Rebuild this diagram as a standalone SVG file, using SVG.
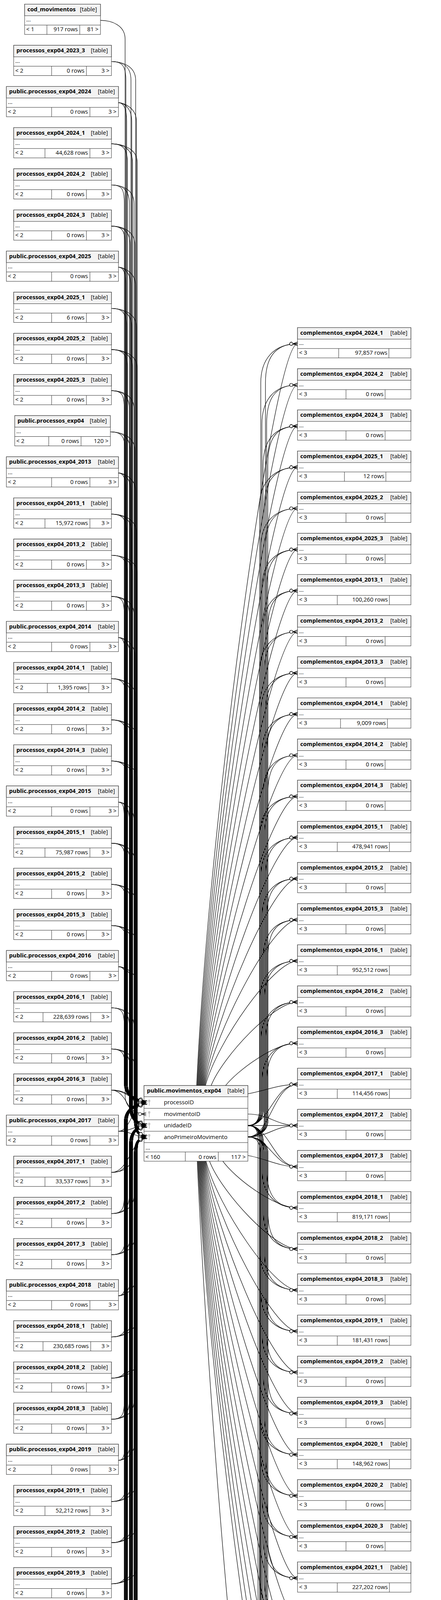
<svg xmlns="http://www.w3.org/2000/svg" width="1128" height="5725" viewBox="0 0 1128 5725">
<style>
text{font-family:"Open Sans","Noto Sans","DejaVu Sans",sans-serif;font-size:14.67px;fill:#000}
.b{font-weight:700}
.e{text-anchor:end}
.n path{fill:none;stroke:#2b2b2b;stroke-width:1}
.c path{fill:none;stroke:#000;stroke-width:1.2;marker-end:url(#m)}
</style>
<defs>
<marker id="m" viewBox="-22 -6 23 12" refX="0" refY="0" markerWidth="23" markerHeight="12" markerUnits="userSpaceOnUse" orient="auto" overflow="visible"><path d="M-12 0L0-4.5M-12 0L0 0M-12 0L0 4.5" fill="none" stroke="#000" stroke-width="1.2"/><circle cx="-16" cy="0" r="4" fill="#fff" stroke="#000" stroke-width="1.2"/></marker>
<g id="fS"><rect width="250" height="77.5" fill="#fff" stroke="#2b2b2b"/><rect width="250" height="29.5" fill="#f3f3f3" stroke="#2b2b2b"/><path d="M0 53.5H250" stroke="#2b2b2b"/></g>
<g id="fP"><rect width="286.7" height="77.5" fill="#fff" stroke="#2b2b2b"/><rect width="286.7" height="29.5" fill="#f3f3f3" stroke="#2b2b2b"/><path d="M0 53.5H286.7" stroke="#2b2b2b"/></g>
<g id="fX"><rect width="244.6" height="77.5" fill="#fff" stroke="#2b2b2b"/><rect width="244.6" height="29.5" fill="#f3f3f3" stroke="#2b2b2b"/><path d="M0 53.5H244.6" stroke="#2b2b2b"/></g>
<g id="fC"><rect width="194" height="77.5" fill="#fff" stroke="#2b2b2b"/><rect width="194" height="29.5" fill="#f3f3f3" stroke="#2b2b2b"/><path d="M0 53.5H194" stroke="#2b2b2b"/></g>
<g id="fR"><rect width="290" height="77.5" fill="#fff" stroke="#2b2b2b"/><rect width="290" height="29.5" fill="#f3f3f3" stroke="#2b2b2b"/><path d="M0 53.5H290" stroke="#2b2b2b"/></g>
<g id="k" fill="#c6c6c6"><ellipse cx="0" cy="10.5" rx="2.8" ry="3.3"/><rect x="-0.9" y="13" width="1.8" height="10"/></g>
</defs>
<rect width="1128" height="5725" fill="#fff"/>
<g class="n">
<g id="cod_movimentos" transform="translate(63 10.7)"><use href="#fC"/><path d="M57 53.5v24M141 53.5v24"/><text class="b" x="7" y="18">cod_movimentos</text><text class="e" x="185" y="18">[table]</text><text x="4" y="44.5">...</text><text x="4" y="69.5">&lt; 1</text><text class="e" x="136" y="69.5">917 rows</text><text class="e" x="189" y="69.5">81 &gt;</text></g>
<g id="processos_exp04_2023_3" transform="translate(35 116)"><use href="#fS"/><path d="M97 53.5v24M186 53.5v24"/><text class="b" x="7" y="18">processos_exp04_2023_3</text><text class="e" x="241" y="18">[table]</text><text x="4" y="44.5">...</text><text x="4" y="69.5">&lt; 2</text><text class="e" x="181" y="69.5">0 rows</text><text class="e" x="245" y="69.5">3 &gt;</text></g>
<g id="public.processos_exp04_2024" transform="translate(16.3 221.4)"><use href="#fP"/><path d="M115.7 53.5v24M213.7 53.5v24"/><text class="b" x="7" y="18">public.processos_exp04_2024</text><text class="e" x="277.7" y="18">[table]</text><text x="4" y="44.5">...</text><text x="4" y="69.5">&lt; 2</text><text class="e" x="208.7" y="69.5">0 rows</text><text class="e" x="281.7" y="69.5">3 &gt;</text></g>
<g id="processos_exp04_2024_1" transform="translate(35 326.7)"><use href="#fS"/><path d="M80 53.5v24M195 53.5v24"/><text class="b" x="7" y="18">processos_exp04_2024_1</text><text class="e" x="241" y="18">[table]</text><text x="4" y="44.5">...</text><text x="4" y="69.5">&lt; 2</text><text class="e" x="190" y="69.5">44,628 rows</text><text class="e" x="245" y="69.5">3 &gt;</text></g>
<g id="processos_exp04_2024_2" transform="translate(35 432)"><use href="#fS"/><path d="M97 53.5v24M186 53.5v24"/><text class="b" x="7" y="18">processos_exp04_2024_2</text><text class="e" x="241" y="18">[table]</text><text x="4" y="44.5">...</text><text x="4" y="69.5">&lt; 2</text><text class="e" x="181" y="69.5">0 rows</text><text class="e" x="245" y="69.5">3 &gt;</text></g>
<g id="processos_exp04_2024_3" transform="translate(35 537.4)"><use href="#fS"/><path d="M97 53.5v24M186 53.5v24"/><text class="b" x="7" y="18">processos_exp04_2024_3</text><text class="e" x="241" y="18">[table]</text><text x="4" y="44.5">...</text><text x="4" y="69.5">&lt; 2</text><text class="e" x="181" y="69.5">0 rows</text><text class="e" x="245" y="69.5">3 &gt;</text></g>
<g id="public.processos_exp04_2025" transform="translate(16.3 642.7)"><use href="#fP"/><path d="M115.7 53.5v24M213.7 53.5v24"/><text class="b" x="7" y="18">public.processos_exp04_2025</text><text class="e" x="277.7" y="18">[table]</text><text x="4" y="44.5">...</text><text x="4" y="69.5">&lt; 2</text><text class="e" x="208.7" y="69.5">0 rows</text><text class="e" x="281.7" y="69.5">3 &gt;</text></g>
<g id="processos_exp04_2025_1" transform="translate(35 748)"><use href="#fS"/><path d="M97 53.5v24M186 53.5v24"/><text class="b" x="7" y="18">processos_exp04_2025_1</text><text class="e" x="241" y="18">[table]</text><text x="4" y="44.5">...</text><text x="4" y="69.5">&lt; 2</text><text class="e" x="181" y="69.5">6 rows</text><text class="e" x="245" y="69.5">3 &gt;</text></g>
<g id="processos_exp04_2025_2" transform="translate(35 853.3)"><use href="#fS"/><path d="M97 53.5v24M186 53.5v24"/><text class="b" x="7" y="18">processos_exp04_2025_2</text><text class="e" x="241" y="18">[table]</text><text x="4" y="44.5">...</text><text x="4" y="69.5">&lt; 2</text><text class="e" x="181" y="69.5">0 rows</text><text class="e" x="245" y="69.5">3 &gt;</text></g>
<g id="processos_exp04_2025_3" transform="translate(35 958.7)"><use href="#fS"/><path d="M97 53.5v24M186 53.5v24"/><text class="b" x="7" y="18">processos_exp04_2025_3</text><text class="e" x="241" y="18">[table]</text><text x="4" y="44.5">...</text><text x="4" y="69.5">&lt; 2</text><text class="e" x="181" y="69.5">0 rows</text><text class="e" x="245" y="69.5">3 &gt;</text></g>
<g id="public.processos_exp04" transform="translate(37.7 1064)"><use href="#fX"/><path d="M87 53.5v24M169.6 53.5v24"/><text class="b" x="7" y="18">public.processos_exp04</text><text class="e" x="235.6" y="18">[table]</text><text x="4" y="44.5">...</text><text x="4" y="69.5">&lt; 2</text><text class="e" x="164.6" y="69.5">0 rows</text><text class="e" x="239.6" y="69.5">120 &gt;</text></g>
<g id="public.processos_exp04_2013" transform="translate(16.3 1169.3)"><use href="#fP"/><path d="M115.7 53.5v24M213.7 53.5v24"/><text class="b" x="7" y="18">public.processos_exp04_2013</text><text class="e" x="277.7" y="18">[table]</text><text x="4" y="44.5">...</text><text x="4" y="69.5">&lt; 2</text><text class="e" x="208.7" y="69.5">0 rows</text><text class="e" x="281.7" y="69.5">3 &gt;</text></g>
<g id="processos_exp04_2013_1" transform="translate(35 1274.6)"><use href="#fS"/><path d="M80 53.5v24M195 53.5v24"/><text class="b" x="7" y="18">processos_exp04_2013_1</text><text class="e" x="241" y="18">[table]</text><text x="4" y="44.5">...</text><text x="4" y="69.5">&lt; 2</text><text class="e" x="190" y="69.5">15,972 rows</text><text class="e" x="245" y="69.5">3 &gt;</text></g>
<g id="processos_exp04_2013_2" transform="translate(35 1380)"><use href="#fS"/><path d="M97 53.5v24M186 53.5v24"/><text class="b" x="7" y="18">processos_exp04_2013_2</text><text class="e" x="241" y="18">[table]</text><text x="4" y="44.5">...</text><text x="4" y="69.5">&lt; 2</text><text class="e" x="181" y="69.5">0 rows</text><text class="e" x="245" y="69.5">3 &gt;</text></g>
<g id="processos_exp04_2013_3" transform="translate(35 1485.3)"><use href="#fS"/><path d="M97 53.5v24M186 53.5v24"/><text class="b" x="7" y="18">processos_exp04_2013_3</text><text class="e" x="241" y="18">[table]</text><text x="4" y="44.5">...</text><text x="4" y="69.5">&lt; 2</text><text class="e" x="181" y="69.5">0 rows</text><text class="e" x="245" y="69.5">3 &gt;</text></g>
<g id="public.processos_exp04_2014" transform="translate(16.3 1590.6)"><use href="#fP"/><path d="M115.7 53.5v24M213.7 53.5v24"/><text class="b" x="7" y="18">public.processos_exp04_2014</text><text class="e" x="277.7" y="18">[table]</text><text x="4" y="44.5">...</text><text x="4" y="69.5">&lt; 2</text><text class="e" x="208.7" y="69.5">0 rows</text><text class="e" x="281.7" y="69.5">3 &gt;</text></g>
<g id="processos_exp04_2014_1" transform="translate(35 1695.9)"><use href="#fS"/><path d="M86 53.5v24M192 53.5v24"/><text class="b" x="7" y="18">processos_exp04_2014_1</text><text class="e" x="241" y="18">[table]</text><text x="4" y="44.5">...</text><text x="4" y="69.5">&lt; 2</text><text class="e" x="187" y="69.5">1,395 rows</text><text class="e" x="245" y="69.5">3 &gt;</text></g>
<g id="processos_exp04_2014_2" transform="translate(35 1801.3)"><use href="#fS"/><path d="M97 53.5v24M186 53.5v24"/><text class="b" x="7" y="18">processos_exp04_2014_2</text><text class="e" x="241" y="18">[table]</text><text x="4" y="44.5">...</text><text x="4" y="69.5">&lt; 2</text><text class="e" x="181" y="69.5">0 rows</text><text class="e" x="245" y="69.5">3 &gt;</text></g>
<g id="processos_exp04_2014_3" transform="translate(35 1906.6)"><use href="#fS"/><path d="M97 53.5v24M186 53.5v24"/><text class="b" x="7" y="18">processos_exp04_2014_3</text><text class="e" x="241" y="18">[table]</text><text x="4" y="44.5">...</text><text x="4" y="69.5">&lt; 2</text><text class="e" x="181" y="69.5">0 rows</text><text class="e" x="245" y="69.5">3 &gt;</text></g>
<g id="public.processos_exp04_2015" transform="translate(16.3 2011.9)"><use href="#fP"/><path d="M115.7 53.5v24M213.7 53.5v24"/><text class="b" x="7" y="18">public.processos_exp04_2015</text><text class="e" x="277.7" y="18">[table]</text><text x="4" y="44.5">...</text><text x="4" y="69.5">&lt; 2</text><text class="e" x="208.7" y="69.5">0 rows</text><text class="e" x="281.7" y="69.5">3 &gt;</text></g>
<g id="processos_exp04_2015_1" transform="translate(35 2117.2)"><use href="#fS"/><path d="M80 53.5v24M195 53.5v24"/><text class="b" x="7" y="18">processos_exp04_2015_1</text><text class="e" x="241" y="18">[table]</text><text x="4" y="44.5">...</text><text x="4" y="69.5">&lt; 2</text><text class="e" x="190" y="69.5">75,987 rows</text><text class="e" x="245" y="69.5">3 &gt;</text></g>
<g id="processos_exp04_2015_2" transform="translate(35 2222.6)"><use href="#fS"/><path d="M97 53.5v24M186 53.5v24"/><text class="b" x="7" y="18">processos_exp04_2015_2</text><text class="e" x="241" y="18">[table]</text><text x="4" y="44.5">...</text><text x="4" y="69.5">&lt; 2</text><text class="e" x="181" y="69.5">0 rows</text><text class="e" x="245" y="69.5">3 &gt;</text></g>
<g id="processos_exp04_2015_3" transform="translate(35 2327.9)"><use href="#fS"/><path d="M97 53.5v24M186 53.5v24"/><text class="b" x="7" y="18">processos_exp04_2015_3</text><text class="e" x="241" y="18">[table]</text><text x="4" y="44.5">...</text><text x="4" y="69.5">&lt; 2</text><text class="e" x="181" y="69.5">0 rows</text><text class="e" x="245" y="69.5">3 &gt;</text></g>
<g id="public.processos_exp04_2016" transform="translate(16.3 2433.2)"><use href="#fP"/><path d="M115.7 53.5v24M213.7 53.5v24"/><text class="b" x="7" y="18">public.processos_exp04_2016</text><text class="e" x="277.7" y="18">[table]</text><text x="4" y="44.5">...</text><text x="4" y="69.5">&lt; 2</text><text class="e" x="208.7" y="69.5">0 rows</text><text class="e" x="281.7" y="69.5">3 &gt;</text></g>
<g id="processos_exp04_2016_1" transform="translate(35 2538.5)"><use href="#fS"/><path d="M75 53.5v24M197 53.5v24"/><text class="b" x="7" y="18">processos_exp04_2016_1</text><text class="e" x="241" y="18">[table]</text><text x="4" y="44.5">...</text><text x="4" y="69.5">&lt; 2</text><text class="e" x="192" y="69.5">228,639 rows</text><text class="e" x="245" y="69.5">3 &gt;</text></g>
<g id="processos_exp04_2016_2" transform="translate(35 2643.9)"><use href="#fS"/><path d="M97 53.5v24M186 53.5v24"/><text class="b" x="7" y="18">processos_exp04_2016_2</text><text class="e" x="241" y="18">[table]</text><text x="4" y="44.5">...</text><text x="4" y="69.5">&lt; 2</text><text class="e" x="181" y="69.5">0 rows</text><text class="e" x="245" y="69.5">3 &gt;</text></g>
<g id="processos_exp04_2016_3" transform="translate(35 2749.2)"><use href="#fS"/><path d="M97 53.5v24M186 53.5v24"/><text class="b" x="7" y="18">processos_exp04_2016_3</text><text class="e" x="241" y="18">[table]</text><text x="4" y="44.5">...</text><text x="4" y="69.5">&lt; 2</text><text class="e" x="181" y="69.5">0 rows</text><text class="e" x="245" y="69.5">3 &gt;</text></g>
<g id="public.processos_exp04_2017" transform="translate(16.3 2854.5)"><use href="#fP"/><path d="M115.7 53.5v24M213.7 53.5v24"/><text class="b" x="7" y="18">public.processos_exp04_2017</text><text class="e" x="277.7" y="18">[table]</text><text x="4" y="44.5">...</text><text x="4" y="69.5">&lt; 2</text><text class="e" x="208.7" y="69.5">0 rows</text><text class="e" x="281.7" y="69.5">3 &gt;</text></g>
<g id="processos_exp04_2017_1" transform="translate(35 2959.8)"><use href="#fS"/><path d="M80 53.5v24M195 53.5v24"/><text class="b" x="7" y="18">processos_exp04_2017_1</text><text class="e" x="241" y="18">[table]</text><text x="4" y="44.5">...</text><text x="4" y="69.5">&lt; 2</text><text class="e" x="190" y="69.5">33,537 rows</text><text class="e" x="245" y="69.5">3 &gt;</text></g>
<g id="processos_exp04_2017_2" transform="translate(35 3065.2)"><use href="#fS"/><path d="M97 53.5v24M186 53.5v24"/><text class="b" x="7" y="18">processos_exp04_2017_2</text><text class="e" x="241" y="18">[table]</text><text x="4" y="44.5">...</text><text x="4" y="69.5">&lt; 2</text><text class="e" x="181" y="69.5">0 rows</text><text class="e" x="245" y="69.5">3 &gt;</text></g>
<g id="processos_exp04_2017_3" transform="translate(35 3170.5)"><use href="#fS"/><path d="M97 53.5v24M186 53.5v24"/><text class="b" x="7" y="18">processos_exp04_2017_3</text><text class="e" x="241" y="18">[table]</text><text x="4" y="44.5">...</text><text x="4" y="69.5">&lt; 2</text><text class="e" x="181" y="69.5">0 rows</text><text class="e" x="245" y="69.5">3 &gt;</text></g>
<g id="public.processos_exp04_2018" transform="translate(16.3 3275.8)"><use href="#fP"/><path d="M115.7 53.5v24M213.7 53.5v24"/><text class="b" x="7" y="18">public.processos_exp04_2018</text><text class="e" x="277.7" y="18">[table]</text><text x="4" y="44.5">...</text><text x="4" y="69.5">&lt; 2</text><text class="e" x="208.7" y="69.5">0 rows</text><text class="e" x="281.7" y="69.5">3 &gt;</text></g>
<g id="processos_exp04_2018_1" transform="translate(35 3381.1)"><use href="#fS"/><path d="M75 53.5v24M197 53.5v24"/><text class="b" x="7" y="18">processos_exp04_2018_1</text><text class="e" x="241" y="18">[table]</text><text x="4" y="44.5">...</text><text x="4" y="69.5">&lt; 2</text><text class="e" x="192" y="69.5">230,685 rows</text><text class="e" x="245" y="69.5">3 &gt;</text></g>
<g id="processos_exp04_2018_2" transform="translate(35 3486.5)"><use href="#fS"/><path d="M97 53.5v24M186 53.5v24"/><text class="b" x="7" y="18">processos_exp04_2018_2</text><text class="e" x="241" y="18">[table]</text><text x="4" y="44.5">...</text><text x="4" y="69.5">&lt; 2</text><text class="e" x="181" y="69.5">0 rows</text><text class="e" x="245" y="69.5">3 &gt;</text></g>
<g id="processos_exp04_2018_3" transform="translate(35 3591.8)"><use href="#fS"/><path d="M97 53.5v24M186 53.5v24"/><text class="b" x="7" y="18">processos_exp04_2018_3</text><text class="e" x="241" y="18">[table]</text><text x="4" y="44.5">...</text><text x="4" y="69.5">&lt; 2</text><text class="e" x="181" y="69.5">0 rows</text><text class="e" x="245" y="69.5">3 &gt;</text></g>
<g id="public.processos_exp04_2019" transform="translate(16.3 3697.1)"><use href="#fP"/><path d="M115.7 53.5v24M213.7 53.5v24"/><text class="b" x="7" y="18">public.processos_exp04_2019</text><text class="e" x="277.7" y="18">[table]</text><text x="4" y="44.5">...</text><text x="4" y="69.5">&lt; 2</text><text class="e" x="208.7" y="69.5">0 rows</text><text class="e" x="281.7" y="69.5">3 &gt;</text></g>
<g id="processos_exp04_2019_1" transform="translate(35 3802.4)"><use href="#fS"/><path d="M80 53.5v24M195 53.5v24"/><text class="b" x="7" y="18">processos_exp04_2019_1</text><text class="e" x="241" y="18">[table]</text><text x="4" y="44.5">...</text><text x="4" y="69.5">&lt; 2</text><text class="e" x="190" y="69.5">52,212 rows</text><text class="e" x="245" y="69.5">3 &gt;</text></g>
<g id="processos_exp04_2019_2" transform="translate(35 3907.8)"><use href="#fS"/><path d="M97 53.5v24M186 53.5v24"/><text class="b" x="7" y="18">processos_exp04_2019_2</text><text class="e" x="241" y="18">[table]</text><text x="4" y="44.5">...</text><text x="4" y="69.5">&lt; 2</text><text class="e" x="181" y="69.5">0 rows</text><text class="e" x="245" y="69.5">3 &gt;</text></g>
<g id="processos_exp04_2019_3" transform="translate(35 4013.1)"><use href="#fS"/><path d="M97 53.5v24M186 53.5v24"/><text class="b" x="7" y="18">processos_exp04_2019_3</text><text class="e" x="241" y="18">[table]</text><text x="4" y="44.5">...</text><text x="4" y="69.5">&lt; 2</text><text class="e" x="181" y="69.5">0 rows</text><text class="e" x="245" y="69.5">3 &gt;</text></g>
<g id="public.processos_exp04_2020" transform="translate(16.3 4118.4)"><use href="#fP"/><path d="M115.7 53.5v24M213.7 53.5v24"/><text class="b" x="7" y="18">public.processos_exp04_2020</text><text class="e" x="277.7" y="18">[table]</text><text x="4" y="44.5">...</text><text x="4" y="69.5">&lt; 2</text><text class="e" x="208.7" y="69.5">0 rows</text><text class="e" x="281.7" y="69.5">3 &gt;</text></g>
<g id="processos_exp04_2020_1" transform="translate(35 4223.7)"><use href="#fS"/><path d="M80 53.5v24M195 53.5v24"/><text class="b" x="7" y="18">processos_exp04_2020_1</text><text class="e" x="241" y="18">[table]</text><text x="4" y="44.5">...</text><text x="4" y="69.5">&lt; 2</text><text class="e" x="190" y="69.5">46,789 rows</text><text class="e" x="245" y="69.5">3 &gt;</text></g>
<g id="processos_exp04_2020_2" transform="translate(35 4329.1)"><use href="#fS"/><path d="M97 53.5v24M186 53.5v24"/><text class="b" x="7" y="18">processos_exp04_2020_2</text><text class="e" x="241" y="18">[table]</text><text x="4" y="44.5">...</text><text x="4" y="69.5">&lt; 2</text><text class="e" x="181" y="69.5">0 rows</text><text class="e" x="245" y="69.5">3 &gt;</text></g>
<g id="processos_exp04_2020_3" transform="translate(35 4434.4)"><use href="#fS"/><path d="M97 53.5v24M186 53.5v24"/><text class="b" x="7" y="18">processos_exp04_2020_3</text><text class="e" x="241" y="18">[table]</text><text x="4" y="44.5">...</text><text x="4" y="69.5">&lt; 2</text><text class="e" x="181" y="69.5">0 rows</text><text class="e" x="245" y="69.5">3 &gt;</text></g>
<g id="public.processos_exp04_2021" transform="translate(16.3 4539.7)"><use href="#fP"/><path d="M115.7 53.5v24M213.7 53.5v24"/><text class="b" x="7" y="18">public.processos_exp04_2021</text><text class="e" x="277.7" y="18">[table]</text><text x="4" y="44.5">...</text><text x="4" y="69.5">&lt; 2</text><text class="e" x="208.7" y="69.5">0 rows</text><text class="e" x="281.7" y="69.5">3 &gt;</text></g>
<g id="processos_exp04_2021_1" transform="translate(35 4645)"><use href="#fS"/><path d="M80 53.5v24M195 53.5v24"/><text class="b" x="7" y="18">processos_exp04_2021_1</text><text class="e" x="241" y="18">[table]</text><text x="4" y="44.5">...</text><text x="4" y="69.5">&lt; 2</text><text class="e" x="190" y="69.5">77,346 rows</text><text class="e" x="245" y="69.5">3 &gt;</text></g>
<g id="processos_exp04_2021_2" transform="translate(35 4750.4)"><use href="#fS"/><path d="M97 53.5v24M186 53.5v24"/><text class="b" x="7" y="18">processos_exp04_2021_2</text><text class="e" x="241" y="18">[table]</text><text x="4" y="44.5">...</text><text x="4" y="69.5">&lt; 2</text><text class="e" x="181" y="69.5">0 rows</text><text class="e" x="245" y="69.5">3 &gt;</text></g>
<g id="processos_exp04_2021_3" transform="translate(35 4855.7)"><use href="#fS"/><path d="M97 53.5v24M186 53.5v24"/><text class="b" x="7" y="18">processos_exp04_2021_3</text><text class="e" x="241" y="18">[table]</text><text x="4" y="44.5">...</text><text x="4" y="69.5">&lt; 2</text><text class="e" x="181" y="69.5">0 rows</text><text class="e" x="245" y="69.5">3 &gt;</text></g>
<g id="public.processos_exp04_2022" transform="translate(16.3 4961)"><use href="#fP"/><path d="M115.7 53.5v24M213.7 53.5v24"/><text class="b" x="7" y="18">public.processos_exp04_2022</text><text class="e" x="277.7" y="18">[table]</text><text x="4" y="44.5">...</text><text x="4" y="69.5">&lt; 2</text><text class="e" x="208.7" y="69.5">0 rows</text><text class="e" x="281.7" y="69.5">3 &gt;</text></g>
<g id="processos_exp04_2022_1" transform="translate(35 5066.3)"><use href="#fS"/><path d="M75 53.5v24M197 53.5v24"/><text class="b" x="7" y="18">processos_exp04_2022_1</text><text class="e" x="241" y="18">[table]</text><text x="4" y="44.5">...</text><text x="4" y="69.5">&lt; 2</text><text class="e" x="192" y="69.5">150,372 rows</text><text class="e" x="245" y="69.5">3 &gt;</text></g>
<g id="processos_exp04_2022_2" transform="translate(35 5171.7)"><use href="#fS"/><path d="M97 53.5v24M186 53.5v24"/><text class="b" x="7" y="18">processos_exp04_2022_2</text><text class="e" x="241" y="18">[table]</text><text x="4" y="44.5">...</text><text x="4" y="69.5">&lt; 2</text><text class="e" x="181" y="69.5">0 rows</text><text class="e" x="245" y="69.5">3 &gt;</text></g>
<g id="processos_exp04_2022_3" transform="translate(35 5277)"><use href="#fS"/><path d="M97 53.5v24M186 53.5v24"/><text class="b" x="7" y="18">processos_exp04_2022_3</text><text class="e" x="241" y="18">[table]</text><text x="4" y="44.5">...</text><text x="4" y="69.5">&lt; 2</text><text class="e" x="181" y="69.5">0 rows</text><text class="e" x="245" y="69.5">3 &gt;</text></g>
<g id="public.processos_exp04_2023" transform="translate(16.3 5382.3)"><use href="#fP"/><path d="M115.7 53.5v24M213.7 53.5v24"/><text class="b" x="7" y="18">public.processos_exp04_2023</text><text class="e" x="277.7" y="18">[table]</text><text x="4" y="44.5">...</text><text x="4" y="69.5">&lt; 2</text><text class="e" x="208.7" y="69.5">0 rows</text><text class="e" x="281.7" y="69.5">3 &gt;</text></g>
<g id="processos_exp04_2023_1" transform="translate(35 5487.6)"><use href="#fS"/><path d="M80 53.5v24M195 53.5v24"/><text class="b" x="7" y="18">processos_exp04_2023_1</text><text class="e" x="241" y="18">[table]</text><text x="4" y="44.5">...</text><text x="4" y="69.5">&lt; 2</text><text class="e" x="190" y="69.5">91,743 rows</text><text class="e" x="245" y="69.5">3 &gt;</text></g>
<g id="processos_exp04_2023_2" transform="translate(35 5593)"><use href="#fS"/><path d="M97 53.5v24M186 53.5v24"/><text class="b" x="7" y="18">processos_exp04_2023_2</text><text class="e" x="241" y="18">[table]</text><text x="4" y="44.5">...</text><text x="4" y="69.5">&lt; 2</text><text class="e" x="181" y="69.5">0 rows</text><text class="e" x="245" y="69.5">3 &gt;</text></g>

<g id="public.movimentos_exp04" transform="translate(368.3 2779)"><rect width="265.7" height="193.7" fill="#fff" stroke="#2b2b2b"/><rect width="265.7" height="28.7" fill="#f3f3f3" stroke="#2b2b2b"/><path d="M0 58.3H265.7M0 87.7H265.7M0 117H265.7M0 146H265.7M0 170H265.7M105.7 170V193.7M190 170V193.7"/><use href="#k" x="13.4" y="28.7"/><use href="#k" x="13.4" y="58.3"/><use href="#k" x="13.4" y="87.7"/><use href="#k" x="13.4" y="117"/><text class="b" x="7.4" y="17.5">public.movimentos_exp04</text><text class="e" x="257" y="17.5">[table]</text><text x="51" y="48.2">processoID</text><text x="51" y="77.8">movimentoID</text><text x="51" y="107.2">unidadeID</text><text x="51" y="136.5">anoPrimeiroMovimento</text><text x="4" y="164">...</text><text x="4" y="187.5">&lt; 160</text><text class="e" x="185" y="187.5">0 rows</text><text class="e" x="260" y="187.5">117 &gt;</text></g>

<g id="complementos_exp04_2024_1" transform="translate(761 838.7)"><use href="#fR"/><path d="M105.3 53.5v24M233.7 53.5v24"/><text class="b" x="7" y="18">complementos_exp04_2024_1</text><text class="e" x="281" y="18">[table]</text><text x="4" y="44.5">...</text><text x="4" y="69.5">&lt; 3</text><text class="e" x="229.7" y="69.5">97,857 rows</text></g>
<g id="complementos_exp04_2024_2" transform="translate(761 944)"><use href="#fR"/><path d="M124 53.5v24M224 53.5v24"/><text class="b" x="7" y="18">complementos_exp04_2024_2</text><text class="e" x="281" y="18">[table]</text><text x="4" y="44.5">...</text><text x="4" y="69.5">&lt; 3</text><text class="e" x="220" y="69.5">0 rows</text></g>
<g id="complementos_exp04_2024_3" transform="translate(761 1049.4)"><use href="#fR"/><path d="M124 53.5v24M224 53.5v24"/><text class="b" x="7" y="18">complementos_exp04_2024_3</text><text class="e" x="281" y="18">[table]</text><text x="4" y="44.5">...</text><text x="4" y="69.5">&lt; 3</text><text class="e" x="220" y="69.5">0 rows</text></g>
<g id="complementos_exp04_2025_1" transform="translate(761 1154.7)"><use href="#fR"/><path d="M120 53.5v24M226 53.5v24"/><text class="b" x="7" y="18">complementos_exp04_2025_1</text><text class="e" x="281" y="18">[table]</text><text x="4" y="44.5">...</text><text x="4" y="69.5">&lt; 3</text><text class="e" x="222" y="69.5">12 rows</text></g>
<g id="complementos_exp04_2025_2" transform="translate(761 1260)"><use href="#fR"/><path d="M124 53.5v24M224 53.5v24"/><text class="b" x="7" y="18">complementos_exp04_2025_2</text><text class="e" x="281" y="18">[table]</text><text x="4" y="44.5">...</text><text x="4" y="69.5">&lt; 3</text><text class="e" x="220" y="69.5">0 rows</text></g>
<g id="complementos_exp04_2025_3" transform="translate(761 1365.3)"><use href="#fR"/><path d="M124 53.5v24M224 53.5v24"/><text class="b" x="7" y="18">complementos_exp04_2025_3</text><text class="e" x="281" y="18">[table]</text><text x="4" y="44.5">...</text><text x="4" y="69.5">&lt; 3</text><text class="e" x="220" y="69.5">0 rows</text></g>
<g id="complementos_exp04_2013_1" transform="translate(761 1470.7)"><use href="#fR"/><path d="M101.7 53.5v24M235 53.5v24"/><text class="b" x="7" y="18">complementos_exp04_2013_1</text><text class="e" x="281" y="18">[table]</text><text x="4" y="44.5">...</text><text x="4" y="69.5">&lt; 3</text><text class="e" x="231" y="69.5">100,260 rows</text></g>
<g id="complementos_exp04_2013_2" transform="translate(761 1576)"><use href="#fR"/><path d="M124 53.5v24M224 53.5v24"/><text class="b" x="7" y="18">complementos_exp04_2013_2</text><text class="e" x="281" y="18">[table]</text><text x="4" y="44.5">...</text><text x="4" y="69.5">&lt; 3</text><text class="e" x="220" y="69.5">0 rows</text></g>
<g id="complementos_exp04_2013_3" transform="translate(761 1681.3)"><use href="#fR"/><path d="M124 53.5v24M224 53.5v24"/><text class="b" x="7" y="18">complementos_exp04_2013_3</text><text class="e" x="281" y="18">[table]</text><text x="4" y="44.5">...</text><text x="4" y="69.5">&lt; 3</text><text class="e" x="220" y="69.5">0 rows</text></g>
<g id="complementos_exp04_2014_1" transform="translate(761 1786.6)"><use href="#fR"/><path d="M110 53.5v24M230 53.5v24"/><text class="b" x="7" y="18">complementos_exp04_2014_1</text><text class="e" x="281" y="18">[table]</text><text x="4" y="44.5">...</text><text x="4" y="69.5">&lt; 3</text><text class="e" x="226" y="69.5">9,009 rows</text></g>
<g id="complementos_exp04_2014_2" transform="translate(761 1892)"><use href="#fR"/><path d="M124 53.5v24M224 53.5v24"/><text class="b" x="7" y="18">complementos_exp04_2014_2</text><text class="e" x="281" y="18">[table]</text><text x="4" y="44.5">...</text><text x="4" y="69.5">&lt; 3</text><text class="e" x="220" y="69.5">0 rows</text></g>
<g id="complementos_exp04_2014_3" transform="translate(761 1997.3)"><use href="#fR"/><path d="M124 53.5v24M224 53.5v24"/><text class="b" x="7" y="18">complementos_exp04_2014_3</text><text class="e" x="281" y="18">[table]</text><text x="4" y="44.5">...</text><text x="4" y="69.5">&lt; 3</text><text class="e" x="220" y="69.5">0 rows</text></g>
<g id="complementos_exp04_2015_1" transform="translate(761 2102.6)"><use href="#fR"/><path d="M101.7 53.5v24M235 53.5v24"/><text class="b" x="7" y="18">complementos_exp04_2015_1</text><text class="e" x="281" y="18">[table]</text><text x="4" y="44.5">...</text><text x="4" y="69.5">&lt; 3</text><text class="e" x="231" y="69.5">478,941 rows</text></g>
<g id="complementos_exp04_2015_2" transform="translate(761 2207.9)"><use href="#fR"/><path d="M124 53.5v24M224 53.5v24"/><text class="b" x="7" y="18">complementos_exp04_2015_2</text><text class="e" x="281" y="18">[table]</text><text x="4" y="44.5">...</text><text x="4" y="69.5">&lt; 3</text><text class="e" x="220" y="69.5">0 rows</text></g>
<g id="complementos_exp04_2015_3" transform="translate(761 2313.3)"><use href="#fR"/><path d="M124 53.5v24M224 53.5v24"/><text class="b" x="7" y="18">complementos_exp04_2015_3</text><text class="e" x="281" y="18">[table]</text><text x="4" y="44.5">...</text><text x="4" y="69.5">&lt; 3</text><text class="e" x="220" y="69.5">0 rows</text></g>
<g id="complementos_exp04_2016_1" transform="translate(761 2418.6)"><use href="#fR"/><path d="M101.7 53.5v24M235 53.5v24"/><text class="b" x="7" y="18">complementos_exp04_2016_1</text><text class="e" x="281" y="18">[table]</text><text x="4" y="44.5">...</text><text x="4" y="69.5">&lt; 3</text><text class="e" x="231" y="69.5">952,512 rows</text></g>
<g id="complementos_exp04_2016_2" transform="translate(761 2523.9)"><use href="#fR"/><path d="M124 53.5v24M224 53.5v24"/><text class="b" x="7" y="18">complementos_exp04_2016_2</text><text class="e" x="281" y="18">[table]</text><text x="4" y="44.5">...</text><text x="4" y="69.5">&lt; 3</text><text class="e" x="220" y="69.5">0 rows</text></g>
<g id="complementos_exp04_2016_3" transform="translate(761 2629.2)"><use href="#fR"/><path d="M124 53.5v24M224 53.5v24"/><text class="b" x="7" y="18">complementos_exp04_2016_3</text><text class="e" x="281" y="18">[table]</text><text x="4" y="44.5">...</text><text x="4" y="69.5">&lt; 3</text><text class="e" x="220" y="69.5">0 rows</text></g>
<g id="complementos_exp04_2017_1" transform="translate(761 2734.6)"><use href="#fR"/><path d="M101.7 53.5v24M235 53.5v24"/><text class="b" x="7" y="18">complementos_exp04_2017_1</text><text class="e" x="281" y="18">[table]</text><text x="4" y="44.5">...</text><text x="4" y="69.5">&lt; 3</text><text class="e" x="231" y="69.5">114,456 rows</text></g>
<g id="complementos_exp04_2017_2" transform="translate(761 2839.9)"><use href="#fR"/><path d="M124 53.5v24M224 53.5v24"/><text class="b" x="7" y="18">complementos_exp04_2017_2</text><text class="e" x="281" y="18">[table]</text><text x="4" y="44.5">...</text><text x="4" y="69.5">&lt; 3</text><text class="e" x="220" y="69.5">0 rows</text></g>
<g id="complementos_exp04_2017_3" transform="translate(761 2945.2)"><use href="#fR"/><path d="M124 53.5v24M224 53.5v24"/><text class="b" x="7" y="18">complementos_exp04_2017_3</text><text class="e" x="281" y="18">[table]</text><text x="4" y="44.5">...</text><text x="4" y="69.5">&lt; 3</text><text class="e" x="220" y="69.5">0 rows</text></g>
<g id="complementos_exp04_2018_1" transform="translate(761 3050.5)"><use href="#fR"/><path d="M101.7 53.5v24M235 53.5v24"/><text class="b" x="7" y="18">complementos_exp04_2018_1</text><text class="e" x="281" y="18">[table]</text><text x="4" y="44.5">...</text><text x="4" y="69.5">&lt; 3</text><text class="e" x="231" y="69.5">819,171 rows</text></g>
<g id="complementos_exp04_2018_2" transform="translate(761 3155.9)"><use href="#fR"/><path d="M124 53.5v24M224 53.5v24"/><text class="b" x="7" y="18">complementos_exp04_2018_2</text><text class="e" x="281" y="18">[table]</text><text x="4" y="44.5">...</text><text x="4" y="69.5">&lt; 3</text><text class="e" x="220" y="69.5">0 rows</text></g>
<g id="complementos_exp04_2018_3" transform="translate(761 3261.2)"><use href="#fR"/><path d="M124 53.5v24M224 53.5v24"/><text class="b" x="7" y="18">complementos_exp04_2018_3</text><text class="e" x="281" y="18">[table]</text><text x="4" y="44.5">...</text><text x="4" y="69.5">&lt; 3</text><text class="e" x="220" y="69.5">0 rows</text></g>
<g id="complementos_exp04_2019_1" transform="translate(761 3366.5)"><use href="#fR"/><path d="M101.7 53.5v24M235 53.5v24"/><text class="b" x="7" y="18">complementos_exp04_2019_1</text><text class="e" x="281" y="18">[table]</text><text x="4" y="44.5">...</text><text x="4" y="69.5">&lt; 3</text><text class="e" x="231" y="69.5">181,431 rows</text></g>
<g id="complementos_exp04_2019_2" transform="translate(761 3471.8)"><use href="#fR"/><path d="M124 53.5v24M224 53.5v24"/><text class="b" x="7" y="18">complementos_exp04_2019_2</text><text class="e" x="281" y="18">[table]</text><text x="4" y="44.5">...</text><text x="4" y="69.5">&lt; 3</text><text class="e" x="220" y="69.5">0 rows</text></g>
<g id="complementos_exp04_2019_3" transform="translate(761 3577.2)"><use href="#fR"/><path d="M124 53.5v24M224 53.5v24"/><text class="b" x="7" y="18">complementos_exp04_2019_3</text><text class="e" x="281" y="18">[table]</text><text x="4" y="44.5">...</text><text x="4" y="69.5">&lt; 3</text><text class="e" x="220" y="69.5">0 rows</text></g>
<g id="complementos_exp04_2020_1" transform="translate(761 3682.5)"><use href="#fR"/><path d="M101.7 53.5v24M235 53.5v24"/><text class="b" x="7" y="18">complementos_exp04_2020_1</text><text class="e" x="281" y="18">[table]</text><text x="4" y="44.5">...</text><text x="4" y="69.5">&lt; 3</text><text class="e" x="231" y="69.5">148,962 rows</text></g>
<g id="complementos_exp04_2020_2" transform="translate(761 3787.8)"><use href="#fR"/><path d="M124 53.5v24M224 53.5v24"/><text class="b" x="7" y="18">complementos_exp04_2020_2</text><text class="e" x="281" y="18">[table]</text><text x="4" y="44.5">...</text><text x="4" y="69.5">&lt; 3</text><text class="e" x="220" y="69.5">0 rows</text></g>
<g id="complementos_exp04_2020_3" transform="translate(761 3893.1)"><use href="#fR"/><path d="M124 53.5v24M224 53.5v24"/><text class="b" x="7" y="18">complementos_exp04_2020_3</text><text class="e" x="281" y="18">[table]</text><text x="4" y="44.5">...</text><text x="4" y="69.5">&lt; 3</text><text class="e" x="220" y="69.5">0 rows</text></g>
<g id="complementos_exp04_2021_1" transform="translate(761 3998.5)"><use href="#fR"/><path d="M101.7 53.5v24M235 53.5v24"/><text class="b" x="7" y="18">complementos_exp04_2021_1</text><text class="e" x="281" y="18">[table]</text><text x="4" y="44.5">...</text><text x="4" y="69.5">&lt; 3</text><text class="e" x="231" y="69.5">227,202 rows</text></g>
<g id="complementos_exp04_2021_2" transform="translate(761 4103.8)"><use href="#fR"/><path d="M124 53.5v24M224 53.5v24"/><text class="b" x="7" y="18">complementos_exp04_2021_2</text><text class="e" x="281" y="18">[table]</text><text x="4" y="44.5">...</text><text x="4" y="69.5">&lt; 3</text><text class="e" x="220" y="69.5">0 rows</text></g>
<g id="complementos_exp04_2021_3" transform="translate(761 4209.1)"><use href="#fR"/><path d="M124 53.5v24M224 53.5v24"/><text class="b" x="7" y="18">complementos_exp04_2021_3</text><text class="e" x="281" y="18">[table]</text><text x="4" y="44.5">...</text><text x="4" y="69.5">&lt; 3</text><text class="e" x="220" y="69.5">0 rows</text></g>
<g id="complementos_exp04_2022_1" transform="translate(761 4314.4)"><use href="#fR"/><path d="M101.7 53.5v24M235 53.5v24"/><text class="b" x="7" y="18">complementos_exp04_2022_1</text><text class="e" x="281" y="18">[table]</text><text x="4" y="44.5">...</text><text x="4" y="69.5">&lt; 3</text><text class="e" x="231" y="69.5">384,408 rows</text></g>
<g id="complementos_exp04_2022_2" transform="translate(761 4419.8)"><use href="#fR"/><path d="M124 53.5v24M224 53.5v24"/><text class="b" x="7" y="18">complementos_exp04_2022_2</text><text class="e" x="281" y="18">[table]</text><text x="4" y="44.5">...</text><text x="4" y="69.5">&lt; 3</text><text class="e" x="220" y="69.5">0 rows</text></g>
<g id="complementos_exp04_2022_3" transform="translate(761 4525.1)"><use href="#fR"/><path d="M124 53.5v24M224 53.5v24"/><text class="b" x="7" y="18">complementos_exp04_2022_3</text><text class="e" x="281" y="18">[table]</text><text x="4" y="44.5">...</text><text x="4" y="69.5">&lt; 3</text><text class="e" x="220" y="69.5">0 rows</text></g>
<g id="complementos_exp04_2023_1" transform="translate(761 4630.4)"><use href="#fR"/><path d="M101.7 53.5v24M235 53.5v24"/><text class="b" x="7" y="18">complementos_exp04_2023_1</text><text class="e" x="281" y="18">[table]</text><text x="4" y="44.5">...</text><text x="4" y="69.5">&lt; 3</text><text class="e" x="231" y="69.5">203,394 rows</text></g>
<g id="complementos_exp04_2023_2" transform="translate(761 4735.7)"><use href="#fR"/><path d="M124 53.5v24M224 53.5v24"/><text class="b" x="7" y="18">complementos_exp04_2023_2</text><text class="e" x="281" y="18">[table]</text><text x="4" y="44.5">...</text><text x="4" y="69.5">&lt; 3</text><text class="e" x="220" y="69.5">0 rows</text></g>

<g id="complementos_exp04_2023_3" transform="translate(698.8 4841.7)"><rect width="412.6" height="231" fill="#fff"/><rect width="412.6" height="31" fill="#f3f3f3" stroke="#2b2b2b"/><path d="M0 61H412.6M0 90H412.6M0 119H412.6M0 148.3H412.6M0 177.6H412.6M0 206.6H412.6M261.6 31V206.6M119.9 206.6V231M261 206.6V231"/><use href="#k" x="17" y="61"/><use href="#k" x="17" y="148.3"/><use href="#k" x="17" y="177.6"/><text class="b" x="9.7" y="19.5">complementos_exp04_2023_3</text><text class="e" x="401.8" y="19.5">[table]</text><text x="29.7" y="50.5">complementoID</text><text x="265.2" y="50.5">bigserial[19]</text><text x="29.7" y="80.5">movimentoID</text><text x="265.2" y="80.5">int8[19]</text><text x="29.7" y="109.5">tipo</text><text x="265.2" y="109.5">varchar[2147483647]</text><text x="29.7" y="138.5">descricao</text><text x="265.2" y="138.5">varchar[2147483647]</text><text x="29.7" y="167.8">unidadeID</text><text x="265.2" y="167.8">int8[19]</text><text x="29.7" y="197.1">anoPrimeiroMovimento</text><text x="265.2" y="197.1">int4[10]</text><text x="4" y="224.5">&lt; 3</text><text class="e" x="256" y="224.5">0 rows</text><text class="e" x="407.6" y="224.5">0 &gt;</text><rect width="412.6" height="231" fill="none" stroke="#000" stroke-width="2.5"/></g>
</g>

<g class="c">
<path d="M257 52.2C285 52.2 320 64.2 320 100.2V2804C320 2840 352 2852 374 2852"/>
<path d="M285 157.5C313 157.5 322 169.5 322 205.5V2774.5C322 2810.5 352 2814.5 374 2822.5"/>
<path d="M285 157.5C313 157.5 335 169.5 335 205.5V2833.3C335 2869.3 352 2873.3 374 2881.3"/>
<path d="M285 157.5C313 157.5 347 169.5 347 205.5V2862.5C347 2898.5 352 2902.5 374 2910.5"/>
<path d="M303 262.9C315 262.9 324 274.9 324 310.9V2774.5C324 2810.5 352 2810.5 374 2822.5"/>
<path d="M303 262.9C315 262.9 337 274.9 337 310.9V2833.3C337 2869.3 352 2869.3 374 2881.3"/>
<path d="M303 262.9C315 262.9 349 274.9 349 310.9V2862.5C349 2898.5 352 2898.5 374 2910.5"/>
<path d="M285 368.2C313 368.2 326 380.2 326 416.2V2774.5C326 2810.5 352 2822.5 374 2822.5"/>
<path d="M285 368.2C313 368.2 339 380.2 339 416.2V2833.3C339 2869.3 352 2881.3 374 2881.3"/>
<path d="M285 368.2C313 368.2 351 380.2 351 416.2V2862.5C351 2898.5 352 2910.5 374 2910.5"/>
<path d="M285 473.5C313 473.5 318 485.5 318 521.5V2774.5C318 2810.5 352 2818.5 374 2822.5"/>
<path d="M285 473.5C313 473.5 331 485.5 331 521.5V2833.3C331 2869.3 352 2877.3 374 2881.3"/>
<path d="M285 473.5C313 473.5 343 485.5 343 521.5V2862.5C343 2898.5 352 2906.5 374 2910.5"/>
<path d="M285 578.9C313 578.9 320 590.9 320 626.9V2774.5C320 2810.5 352 2814.5 374 2822.5"/>
<path d="M285 578.9C313 578.9 333 590.9 333 626.9V2833.3C333 2869.3 352 2873.3 374 2881.3"/>
<path d="M285 578.9C313 578.9 345 590.9 345 626.9V2862.5C345 2898.5 352 2902.5 374 2910.5"/>
<path d="M303 684.2C315 684.2 322 696.2 322 732.2V2774.5C322 2810.5 352 2810.5 374 2822.5"/>
<path d="M303 684.2C315 684.2 335 696.2 335 732.2V2833.3C335 2869.3 352 2869.3 374 2881.3"/>
<path d="M303 684.2C315 684.2 347 696.2 347 732.2V2862.5C347 2898.5 352 2898.5 374 2910.5"/>
<path d="M285 789.5C313 789.5 324 801.5 324 837.5V2774.5C324 2810.5 352 2822.5 374 2822.5"/>
<path d="M285 789.5C313 789.5 337 801.5 337 837.5V2833.3C337 2869.3 352 2881.3 374 2881.3"/>
<path d="M285 789.5C313 789.5 349 801.5 349 837.5V2862.5C349 2898.5 352 2910.5 374 2910.5"/>
<path d="M285 894.8C313 894.8 326 906.8 326 942.8V2774.5C326 2810.5 352 2818.5 374 2822.5"/>
<path d="M285 894.8C313 894.8 339 906.8 339 942.8V2833.3C339 2869.3 352 2877.3 374 2881.3"/>
<path d="M285 894.8C313 894.8 351 906.8 351 942.8V2862.5C351 2898.5 352 2906.5 374 2910.5"/>
<path d="M285 1000.2C313 1000.2 318 1012.2 318 1048.2V2774.5C318 2810.5 352 2814.5 374 2822.5"/>
<path d="M285 1000.2C313 1000.2 331 1012.2 331 1048.2V2833.3C331 2869.3 352 2873.3 374 2881.3"/>
<path d="M285 1000.2C313 1000.2 343 1012.2 343 1048.2V2862.5C343 2898.5 352 2902.5 374 2910.5"/>
<path d="M282.3 1105.5C310.3 1105.5 320 1117.5 320 1153.5V2774.5C320 2810.5 352 2810.5 374 2822.5"/>
<path d="M282.3 1105.5C310.3 1105.5 333 1117.5 333 1153.5V2833.3C333 2869.3 352 2869.3 374 2881.3"/>
<path d="M282.3 1105.5C310.3 1105.5 345 1117.5 345 1153.5V2862.5C345 2898.5 352 2898.5 374 2910.5"/>
<path d="M303 1210.8C315 1210.8 322 1222.8 322 1258.8V2774.5C322 2810.5 352 2822.5 374 2822.5"/>
<path d="M303 1210.8C315 1210.8 335 1222.8 335 1258.8V2833.3C335 2869.3 352 2881.3 374 2881.3"/>
<path d="M303 1210.8C315 1210.8 347 1222.8 347 1258.8V2862.5C347 2898.5 352 2910.5 374 2910.5"/>
<path d="M285 1316.1C313 1316.1 324 1328.1 324 1364.1V2774.5C324 2810.5 352 2818.5 374 2822.5"/>
<path d="M285 1316.1C313 1316.1 337 1328.1 337 1364.1V2833.3C337 2869.3 352 2877.3 374 2881.3"/>
<path d="M285 1316.1C313 1316.1 349 1328.1 349 1364.1V2862.5C349 2898.5 352 2906.5 374 2910.5"/>
<path d="M285 1421.5C313 1421.5 326 1433.5 326 1469.5V2774.5C326 2810.5 352 2814.5 374 2822.5"/>
<path d="M285 1421.5C313 1421.5 339 1433.5 339 1469.5V2833.3C339 2869.3 352 2873.3 374 2881.3"/>
<path d="M285 1421.5C313 1421.5 351 1433.5 351 1469.5V2862.5C351 2898.5 352 2902.5 374 2910.5"/>
<path d="M285 1526.8C313 1526.8 318 1538.8 318 1574.8V2774.5C318 2810.5 352 2810.5 374 2822.5"/>
<path d="M285 1526.8C313 1526.8 331 1538.8 331 1574.8V2833.3C331 2869.3 352 2869.3 374 2881.3"/>
<path d="M285 1526.8C313 1526.8 343 1538.8 343 1574.8V2862.5C343 2898.5 352 2898.5 374 2910.5"/>
<path d="M303 1632.1C315 1632.1 320 1644.1 320 1680.1V2774.5C320 2810.5 352 2822.5 374 2822.5"/>
<path d="M303 1632.1C315 1632.1 333 1644.1 333 1680.1V2833.3C333 2869.3 352 2881.3 374 2881.3"/>
<path d="M303 1632.1C315 1632.1 345 1644.1 345 1680.1V2862.5C345 2898.5 352 2910.5 374 2910.5"/>
<path d="M285 1737.4C313 1737.4 322 1749.4 322 1785.4V2774.5C322 2810.5 352 2818.5 374 2822.5"/>
<path d="M285 1737.4C313 1737.4 335 1749.4 335 1785.4V2833.3C335 2869.3 352 2877.3 374 2881.3"/>
<path d="M285 1737.4C313 1737.4 347 1749.4 347 1785.4V2862.5C347 2898.5 352 2906.5 374 2910.5"/>
<path d="M285 1842.8C313 1842.8 324 1854.8 324 1890.8V2774.5C324 2810.5 352 2814.5 374 2822.5"/>
<path d="M285 1842.8C313 1842.8 337 1854.8 337 1890.8V2833.3C337 2869.3 352 2873.3 374 2881.3"/>
<path d="M285 1842.8C313 1842.8 349 1854.8 349 1890.8V2862.5C349 2898.5 352 2902.5 374 2910.5"/>
<path d="M285 1948.1C313 1948.1 326 1960.1 326 1996.1V2774.5C326 2810.5 352 2810.5 374 2822.5"/>
<path d="M285 1948.1C313 1948.1 339 1960.1 339 1996.1V2833.3C339 2869.3 352 2869.3 374 2881.3"/>
<path d="M285 1948.1C313 1948.1 351 1960.1 351 1996.1V2862.5C351 2898.5 352 2898.5 374 2910.5"/>
<path d="M303 2053.4C315 2053.4 318 2065.4 318 2101.4V2774.5C318 2810.5 352 2822.5 374 2822.5"/>
<path d="M303 2053.4C315 2053.4 331 2065.4 331 2101.4V2833.3C331 2869.3 352 2881.3 374 2881.3"/>
<path d="M303 2053.4C315 2053.4 343 2065.4 343 2101.4V2862.5C343 2898.5 352 2910.5 374 2910.5"/>
<path d="M285 2158.7C313 2158.7 320 2170.7 320 2206.7V2774.5C320 2810.5 352 2818.5 374 2822.5"/>
<path d="M285 2158.7C313 2158.7 333 2170.7 333 2206.7V2833.3C333 2869.3 352 2877.3 374 2881.3"/>
<path d="M285 2158.7C313 2158.7 345 2170.7 345 2206.7V2862.5C345 2898.5 352 2906.5 374 2910.5"/>
<path d="M285 2264.1C313 2264.1 322 2276.1 322 2312.1V2774.5C322 2810.5 352 2814.5 374 2822.5"/>
<path d="M285 2264.1C313 2264.1 335 2276.1 335 2312.1V2833.3C335 2869.3 352 2873.3 374 2881.3"/>
<path d="M285 2264.1C313 2264.1 347 2276.1 347 2312.1V2862.5C347 2898.5 352 2902.5 374 2910.5"/>
<path d="M285 2369.4C313 2369.4 324 2381.4 324 2417.4V2774.5C324 2810.5 352 2810.5 374 2822.5"/>
<path d="M285 2369.4C313 2369.4 337 2381.4 337 2417.4V2833.3C337 2869.3 352 2869.3 374 2881.3"/>
<path d="M285 2369.4C313 2369.4 349 2381.4 349 2417.4V2862.5C349 2898.5 352 2898.5 374 2910.5"/>
<path d="M303 2474.7C315 2474.7 326 2486.7 326 2522.7V2774.5C326 2810.5 352 2822.5 374 2822.5"/>
<path d="M303 2474.7C315 2474.7 339 2486.7 339 2522.7V2833.3C339 2869.3 352 2881.3 374 2881.3"/>
<path d="M303 2474.7C315 2474.7 351 2486.7 351 2522.7V2862.5C351 2898.5 352 2910.5 374 2910.5"/>
<path d="M285 2580C313 2580 318 2592 318 2628V2774.5C318 2810.5 352 2818.5 374 2822.5"/>
<path d="M285 2580C313 2580 331 2592 331 2628V2833.3C331 2869.3 352 2877.3 374 2881.3"/>
<path d="M285 2580C313 2580 343 2592 343 2628V2862.5C343 2898.5 352 2906.5 374 2910.5"/>
<path d="M285 2685.4C313 2685.4 320 2697.4 320 2733.4V2774.5C320 2810.5 352 2814.5 374 2822.5"/>
<path d="M285 2685.4C313 2685.4 333 2697.4 333 2733.4V2833.3C333 2869.3 352 2873.3 374 2881.3"/>
<path d="M285 2685.4C313 2685.4 345 2697.4 345 2733.4V2862.5C345 2898.5 352 2902.5 374 2910.5"/>
<path d="M285 2790.7C325 2790.7 340 2822.5 374 2822.5"/>
<path d="M285 2790.7C330 2790.7 335 2881.3 374 2881.3"/>
<path d="M285 2790.7C313 2790.7 347 2802.7 347 2838.7V2862.5C347 2898.5 352 2898.5 374 2910.5"/>
<path d="M303 2896C335 2896 340 2822.5 374 2822.5"/>
<path d="M303 2896C335 2896 345 2881.3 374 2881.3"/>
<path d="M303 2896C335 2896 345 2910.5 374 2910.5"/>
<path d="M285 3001.3C313 3001.3 326 2989.3 326 2953.3V2870.5C326 2834.5 352 2826.5 374 2822.5"/>
<path d="M285 3001.3C313 3001.3 339 2989.3 339 2953.3V2929.3C339 2893.3 352 2885.3 374 2881.3"/>
<path d="M285 3001.3C330 3001.3 340 2910.5 374 2910.5"/>
<path d="M285 3106.7C313 3106.7 318 3094.7 318 3058.7V2870.5C318 2834.5 352 2830.5 374 2822.5"/>
<path d="M285 3106.7C313 3106.7 331 3094.7 331 3058.7V2929.3C331 2893.3 352 2889.3 374 2881.3"/>
<path d="M285 3106.7C313 3106.7 343 3094.7 343 3058.7V2958.5C343 2922.5 352 2918.5 374 2910.5"/>
<path d="M285 3212C313 3212 320 3200 320 3164V2870.5C320 2834.5 352 2834.5 374 2822.5"/>
<path d="M285 3212C313 3212 333 3200 333 3164V2929.3C333 2893.3 352 2893.3 374 2881.3"/>
<path d="M285 3212C313 3212 345 3200 345 3164V2958.5C345 2922.5 352 2922.5 374 2910.5"/>
<path d="M303 3317.3C315 3317.3 322 3305.3 322 3269.3V2870.5C322 2834.5 352 2822.5 374 2822.5"/>
<path d="M303 3317.3C315 3317.3 335 3305.3 335 3269.3V2929.3C335 2893.3 352 2881.3 374 2881.3"/>
<path d="M303 3317.3C315 3317.3 347 3305.3 347 3269.3V2958.5C347 2922.5 352 2910.5 374 2910.5"/>
<path d="M285 3422.6C313 3422.6 324 3410.6 324 3374.6V2870.5C324 2834.5 352 2826.5 374 2822.5"/>
<path d="M285 3422.6C313 3422.6 337 3410.6 337 3374.6V2929.3C337 2893.3 352 2885.3 374 2881.3"/>
<path d="M285 3422.6C313 3422.6 349 3410.6 349 3374.6V2958.5C349 2922.5 352 2914.5 374 2910.5"/>
<path d="M285 3528C313 3528 326 3516 326 3480V2870.5C326 2834.5 352 2830.5 374 2822.5"/>
<path d="M285 3528C313 3528 339 3516 339 3480V2929.3C339 2893.3 352 2889.3 374 2881.3"/>
<path d="M285 3528C313 3528 351 3516 351 3480V2958.5C351 2922.5 352 2918.5 374 2910.5"/>
<path d="M285 3633.3C313 3633.3 318 3621.3 318 3585.3V2870.5C318 2834.5 352 2834.5 374 2822.5"/>
<path d="M285 3633.3C313 3633.3 331 3621.3 331 3585.3V2929.3C331 2893.3 352 2893.3 374 2881.3"/>
<path d="M285 3633.3C313 3633.3 343 3621.3 343 3585.3V2958.5C343 2922.5 352 2922.5 374 2910.5"/>
<path d="M303 3738.6C315 3738.6 320 3726.6 320 3690.6V2870.5C320 2834.5 352 2822.5 374 2822.5"/>
<path d="M303 3738.6C315 3738.6 333 3726.6 333 3690.6V2929.3C333 2893.3 352 2881.3 374 2881.3"/>
<path d="M303 3738.6C315 3738.6 345 3726.6 345 3690.6V2958.5C345 2922.5 352 2910.5 374 2910.5"/>
<path d="M285 3843.9C313 3843.9 322 3831.9 322 3795.9V2870.5C322 2834.5 352 2826.5 374 2822.5"/>
<path d="M285 3843.9C313 3843.9 335 3831.9 335 3795.9V2929.3C335 2893.3 352 2885.3 374 2881.3"/>
<path d="M285 3843.9C313 3843.9 347 3831.9 347 3795.9V2958.5C347 2922.5 352 2914.5 374 2910.5"/>
<path d="M285 3949.3C313 3949.3 324 3937.3 324 3901.3V2870.5C324 2834.5 352 2830.5 374 2822.5"/>
<path d="M285 3949.3C313 3949.3 337 3937.3 337 3901.3V2929.3C337 2893.3 352 2889.3 374 2881.3"/>
<path d="M285 3949.3C313 3949.3 349 3937.3 349 3901.3V2958.5C349 2922.5 352 2918.5 374 2910.5"/>
<path d="M285 4054.6C313 4054.6 326 4042.6 326 4006.6V2870.5C326 2834.5 352 2834.5 374 2822.5"/>
<path d="M285 4054.6C313 4054.6 339 4042.6 339 4006.6V2929.3C339 2893.3 352 2893.3 374 2881.3"/>
<path d="M285 4054.6C313 4054.6 351 4042.6 351 4006.6V2958.5C351 2922.5 352 2922.5 374 2910.5"/>
<path d="M303 4159.9C315 4159.9 318 4147.9 318 4111.9V2870.5C318 2834.5 352 2822.5 374 2822.5"/>
<path d="M303 4159.9C315 4159.9 331 4147.9 331 4111.9V2929.3C331 2893.3 352 2881.3 374 2881.3"/>
<path d="M303 4159.9C315 4159.9 343 4147.9 343 4111.9V2958.5C343 2922.5 352 2910.5 374 2910.5"/>
<path d="M285 4265.2C313 4265.2 320 4253.2 320 4217.2V2870.5C320 2834.5 352 2826.5 374 2822.5"/>
<path d="M285 4265.2C313 4265.2 333 4253.2 333 4217.2V2929.3C333 2893.3 352 2885.3 374 2881.3"/>
<path d="M285 4265.2C313 4265.2 345 4253.2 345 4217.2V2958.5C345 2922.5 352 2914.5 374 2910.5"/>
<path d="M285 4370.6C313 4370.6 322 4358.6 322 4322.6V2870.5C322 2834.5 352 2830.5 374 2822.5"/>
<path d="M285 4370.6C313 4370.6 335 4358.6 335 4322.6V2929.3C335 2893.3 352 2889.3 374 2881.3"/>
<path d="M285 4370.6C313 4370.6 347 4358.6 347 4322.6V2958.5C347 2922.5 352 2918.5 374 2910.5"/>
<path d="M285 4475.9C313 4475.9 324 4463.9 324 4427.9V2870.5C324 2834.5 352 2834.5 374 2822.5"/>
<path d="M285 4475.9C313 4475.9 337 4463.9 337 4427.9V2929.3C337 2893.3 352 2893.3 374 2881.3"/>
<path d="M285 4475.9C313 4475.9 349 4463.9 349 4427.9V2958.5C349 2922.5 352 2922.5 374 2910.5"/>
<path d="M303 4581.2C315 4581.2 326 4569.2 326 4533.2V2870.5C326 2834.5 352 2822.5 374 2822.5"/>
<path d="M303 4581.2C315 4581.2 339 4569.2 339 4533.2V2929.3C339 2893.3 352 2881.3 374 2881.3"/>
<path d="M303 4581.2C315 4581.2 351 4569.2 351 4533.2V2958.5C351 2922.5 352 2910.5 374 2910.5"/>
<path d="M285 4686.5C313 4686.5 318 4674.5 318 4638.5V2870.5C318 2834.5 352 2826.5 374 2822.5"/>
<path d="M285 4686.5C313 4686.5 331 4674.5 331 4638.5V2929.3C331 2893.3 352 2885.3 374 2881.3"/>
<path d="M285 4686.5C313 4686.5 343 4674.5 343 4638.5V2958.5C343 2922.5 352 2914.5 374 2910.5"/>
<path d="M285 4791.9C313 4791.9 320 4779.9 320 4743.9V2870.5C320 2834.5 352 2830.5 374 2822.5"/>
<path d="M285 4791.9C313 4791.9 333 4779.9 333 4743.9V2929.3C333 2893.3 352 2889.3 374 2881.3"/>
<path d="M285 4791.9C313 4791.9 345 4779.9 345 4743.9V2958.5C345 2922.5 352 2918.5 374 2910.5"/>
<path d="M285 4897.2C313 4897.2 322 4885.2 322 4849.2V2870.5C322 2834.5 352 2834.5 374 2822.5"/>
<path d="M285 4897.2C313 4897.2 335 4885.2 335 4849.2V2929.3C335 2893.3 352 2893.3 374 2881.3"/>
<path d="M285 4897.2C313 4897.2 347 4885.2 347 4849.2V2958.5C347 2922.5 352 2922.5 374 2910.5"/>
<path d="M303 5002.5C315 5002.5 324 4990.5 324 4954.5V2870.5C324 2834.5 352 2822.5 374 2822.5"/>
<path d="M303 5002.5C315 5002.5 337 4990.5 337 4954.5V2929.3C337 2893.3 352 2881.3 374 2881.3"/>
<path d="M303 5002.5C315 5002.5 349 4990.5 349 4954.5V2958.5C349 2922.5 352 2910.5 374 2910.5"/>
<path d="M285 5107.8C313 5107.8 326 5095.8 326 5059.8V2870.5C326 2834.5 352 2826.5 374 2822.5"/>
<path d="M285 5107.8C313 5107.8 339 5095.8 339 5059.8V2929.3C339 2893.3 352 2885.3 374 2881.3"/>
<path d="M285 5107.8C313 5107.8 351 5095.8 351 5059.8V2958.5C351 2922.5 352 2914.5 374 2910.5"/>
<path d="M285 5213.2C313 5213.2 318 5201.2 318 5165.2V2870.5C318 2834.5 352 2830.5 374 2822.5"/>
<path d="M285 5213.2C313 5213.2 331 5201.2 331 5165.2V2929.3C331 2893.3 352 2889.3 374 2881.3"/>
<path d="M285 5213.2C313 5213.2 343 5201.2 343 5165.2V2958.5C343 2922.5 352 2918.5 374 2910.5"/>
<path d="M285 5318.5C313 5318.5 320 5306.5 320 5270.5V2870.5C320 2834.5 352 2834.5 374 2822.5"/>
<path d="M285 5318.5C313 5318.5 333 5306.5 333 5270.5V2929.3C333 2893.3 352 2893.3 374 2881.3"/>
<path d="M285 5318.5C313 5318.5 345 5306.5 345 5270.5V2958.5C345 2922.5 352 2922.5 374 2910.5"/>
<path d="M303 5423.8C315 5423.8 322 5411.8 322 5375.8V2870.5C322 2834.5 352 2822.5 374 2822.5"/>
<path d="M303 5423.8C315 5423.8 335 5411.8 335 5375.8V2929.3C335 2893.3 352 2881.3 374 2881.3"/>
<path d="M303 5423.8C315 5423.8 347 5411.8 347 5375.8V2958.5C347 2922.5 352 2910.5 374 2910.5"/>
<path d="M285 5529.1C313 5529.1 324 5517.1 324 5481.1V2870.5C324 2834.5 352 2826.5 374 2822.5"/>
<path d="M285 5529.1C313 5529.1 337 5517.1 337 5481.1V2929.3C337 2893.3 352 2885.3 374 2881.3"/>
<path d="M285 5529.1C313 5529.1 349 5517.1 349 5481.1V2958.5C349 2922.5 352 2914.5 374 2910.5"/>
<path d="M285 5634.5C313 5634.5 326 5622.5 326 5586.5V2870.5C326 2834.5 352 2830.5 374 2822.5"/>
<path d="M285 5634.5C313 5634.5 339 5622.5 339 5586.5V2929.3C339 2893.3 352 2889.3 374 2881.3"/>
<path d="M285 5634.5C313 5634.5 351 5622.5 351 5586.5V2958.5C351 2922.5 352 2918.5 374 2910.5"/>

<path d="M634 2881.3C652 2881.3 667 2871.3 667 2841.3V980.2C667 920.2 700 880.2 761 880.2"/>
<path d="M634 2910.5C652 2910.5 679 2900.5 679 2870.5V980.2C679 920.2 700 880.2 761 880.2"/>
<path d="M503 2779C533 2114.4 700 880.2 761 880.2"/>
<path d="M634 2881.3C652 2881.3 670 2871.3 670 2841.3V1085.5C670 1025.5 700 985.5 761 985.5"/>
<path d="M634 2910.5C652 2910.5 682 2900.5 682 2870.5V1085.5C682 1025.5 700 985.5 761 985.5"/>
<path d="M504.5 2779C534.5 2151.3 700 985.5 761 985.5"/>
<path d="M634 2881.3C652 2881.3 673 2871.3 673 2841.3V1190.9C673 1130.9 700 1090.9 761 1090.9"/>
<path d="M634 2910.5C652 2910.5 685 2900.5 685 2870.5V1190.9C685 1130.9 700 1090.9 761 1090.9"/>
<path d="M506 2779C536 2188.2 700 1090.9 761 1090.9"/>
<path d="M634 2881.3C652 2881.3 664 2871.3 664 2841.3V1296.2C664 1236.2 700 1196.2 761 1196.2"/>
<path d="M634 2910.5C652 2910.5 676 2900.5 676 2870.5V1296.2C676 1236.2 700 1196.2 761 1196.2"/>
<path d="M507.5 2779C537.5 2225 700 1196.2 761 1196.2"/>
<path d="M634 2881.3C652 2881.3 667 2871.3 667 2841.3V1401.5C667 1341.5 700 1301.5 761 1301.5"/>
<path d="M634 2910.5C652 2910.5 679 2900.5 679 2870.5V1401.5C679 1341.5 700 1301.5 761 1301.5"/>
<path d="M509 2779C539 2261.9 700 1301.5 761 1301.5"/>
<path d="M634 2881.3C652 2881.3 670 2871.3 670 2841.3V1506.8C670 1446.8 700 1406.8 761 1406.8"/>
<path d="M634 2910.5C652 2910.5 682 2900.5 682 2870.5V1506.8C682 1446.8 700 1406.8 761 1406.8"/>
<path d="M510.5 2779C540.5 2298.7 700 1406.8 761 1406.8"/>
<path d="M634 2881.3C652 2881.3 673 2871.3 673 2841.3V1612.2C673 1552.2 700 1512.2 761 1512.2"/>
<path d="M634 2910.5C652 2910.5 685 2900.5 685 2870.5V1612.2C685 1552.2 700 1512.2 761 1512.2"/>
<path d="M512 2779C542 2335.6 700 1512.2 761 1512.2"/>
<path d="M634 2881.3C652 2881.3 664 2871.3 664 2841.3V1717.5C664 1657.5 700 1617.5 761 1617.5"/>
<path d="M634 2910.5C652 2910.5 676 2900.5 676 2870.5V1717.5C676 1657.5 700 1617.5 761 1617.5"/>
<path d="M513.5 2779C543.5 2372.5 700 1617.5 761 1617.5"/>
<path d="M634 2881.3C652 2881.3 667 2871.3 667 2841.3V1822.8C667 1762.8 700 1722.8 761 1722.8"/>
<path d="M634 2910.5C652 2910.5 679 2900.5 679 2870.5V1822.8C679 1762.8 700 1722.8 761 1722.8"/>
<path d="M515 2779C545 2409.3 700 1722.8 761 1722.8"/>
<path d="M634 2881.3C652 2881.3 670 2871.3 670 2841.3V1928.1C670 1868.1 700 1828.1 761 1828.1"/>
<path d="M634 2910.5C652 2910.5 682 2900.5 682 2870.5V1928.1C682 1868.1 700 1828.1 761 1828.1"/>
<path d="M516.5 2779C546.5 2446.2 700 1828.1 761 1828.1"/>
<path d="M634 2881.3C652 2881.3 673 2871.3 673 2841.3V2033.5C673 1973.5 700 1933.5 761 1933.5"/>
<path d="M634 2910.5C652 2910.5 685 2900.5 685 2870.5V2033.5C685 1973.5 700 1933.5 761 1933.5"/>
<path d="M518 2779C548 2483.1 700 1933.5 761 1933.5"/>
<path d="M634 2881.3C652 2881.3 664 2871.3 664 2841.3V2138.8C664 2078.8 700 2038.8 761 2038.8"/>
<path d="M634 2910.5C652 2910.5 676 2900.5 676 2870.5V2138.8C676 2078.8 700 2038.8 761 2038.8"/>
<path d="M519.5 2779C549.5 2519.9 700 2038.8 761 2038.8"/>
<path d="M634 2881.3C652 2881.3 667 2871.3 667 2841.3V2244.1C667 2184.1 700 2144.1 761 2144.1"/>
<path d="M634 2910.5C652 2910.5 679 2900.5 679 2870.5V2244.1C679 2184.1 700 2144.1 761 2144.1"/>
<path d="M521 2779C551 2556.8 700 2144.1 761 2144.1"/>
<path d="M634 2881.3C652 2881.3 670 2871.3 670 2841.3V2349.4C670 2289.4 700 2249.4 761 2249.4"/>
<path d="M634 2910.5C652 2910.5 682 2900.5 682 2870.5V2349.4C682 2289.4 700 2249.4 761 2249.4"/>
<path d="M522.5 2779C552.5 2593.6 700 2249.4 761 2249.4"/>
<path d="M634 2881.3C652 2881.3 673 2871.3 673 2841.3V2454.8C673 2394.8 700 2354.8 761 2354.8"/>
<path d="M634 2910.5C652 2910.5 685 2900.5 685 2870.5V2454.8C685 2394.8 700 2354.8 761 2354.8"/>
<path d="M524 2779C554 2630.5 700 2354.8 761 2354.8"/>
<path d="M634 2881.3C652 2881.3 664 2871.3 664 2841.3V2560.1C664 2500.1 700 2460.1 761 2460.1"/>
<path d="M634 2910.5C652 2910.5 676 2900.5 676 2870.5V2560.1C676 2500.1 700 2460.1 761 2460.1"/>
<path d="M525.5 2779C555.5 2667.4 700 2460.1 761 2460.1"/>
<path d="M634 2881.3C652 2881.3 667 2871.3 667 2841.3V2665.4C667 2605.4 700 2565.4 761 2565.4"/>
<path d="M634 2910.5C652 2910.5 679 2900.5 679 2870.5V2665.4C679 2605.4 700 2565.4 761 2565.4"/>
<path d="M540 2779C570 2704.2 700 2565.4 761 2565.4"/>
<path d="M634 2881.3C652 2881.3 670 2871.3 670 2841.3V2770.7C670 2710.7 700 2670.7 761 2670.7"/>
<path d="M634 2910.5C652 2910.5 682 2900.5 682 2870.5V2770.7C682 2710.7 700 2670.7 761 2670.7"/>
<path d="M577 2779C607 2741.1 700 2670.7 761 2670.7"/>
<path d="M634 2881.3C690 2881.3 700 2776.1 761 2776.1"/>
<path d="M634 2910.5C690 2910.5 700 2776.1 761 2776.1"/>
<path d="M634 2800C680 2792 712 2776.1 761 2776.1"/>
<path d="M634 2881.3C690 2881.3 700 2881.4 761 2881.4"/>
<path d="M634 2910.5C690 2910.5 700 2881.4 761 2881.4"/>
<path d="M634 2852C690 2852 705 2881.4 761 2881.4"/>
<path d="M634 2881.3C690 2881.3 700 2986.7 761 2986.7"/>
<path d="M634 2910.5C690 2910.5 700 2986.7 761 2986.7"/>
<path d="M634 2958C680 2966 712 2986.7 761 2986.7"/>
<path d="M634 2881.3C652 2881.3 670 2891.3 670 2921.3V2992C670 3052 700 3092 761 3092"/>
<path d="M634 2910.5C652 2910.5 682 2920.5 682 2950.5V2992C682 3052 700 3092 761 3092"/>
<path d="M570 2972.7C600 3014.5 700 3092 761 3092"/>
<path d="M634 2881.3C652 2881.3 673 2891.3 673 2921.3V3097.4C673 3157.4 700 3197.4 761 3197.4"/>
<path d="M634 2910.5C652 2910.5 685 2920.5 685 2950.5V3097.4C685 3157.4 700 3197.4 761 3197.4"/>
<path d="M536 2972.7C566 3051.3 700 3197.4 761 3197.4"/>
<path d="M634 2881.3C652 2881.3 664 2891.3 664 2921.3V3202.7C664 3262.7 700 3302.7 761 3302.7"/>
<path d="M634 2910.5C652 2910.5 676 2920.5 676 2950.5V3202.7C676 3262.7 700 3302.7 761 3302.7"/>
<path d="M527 2972.7C557 3088.2 700 3302.7 761 3302.7"/>
<path d="M634 2881.3C652 2881.3 667 2891.3 667 2921.3V3308C667 3368 700 3408 761 3408"/>
<path d="M634 2910.5C652 2910.5 679 2920.5 679 2950.5V3308C679 3368 700 3408 761 3408"/>
<path d="M525.5 2972.7C555.5 3125.1 700 3408 761 3408"/>
<path d="M634 2881.3C652 2881.3 670 2891.3 670 2921.3V3413.3C670 3473.3 700 3513.3 761 3513.3"/>
<path d="M634 2910.5C652 2910.5 682 2920.5 682 2950.5V3413.3C682 3473.3 700 3513.3 761 3513.3"/>
<path d="M524 2972.7C554 3161.9 700 3513.3 761 3513.3"/>
<path d="M634 2881.3C652 2881.3 673 2891.3 673 2921.3V3518.7C673 3578.7 700 3618.7 761 3618.7"/>
<path d="M634 2910.5C652 2910.5 685 2920.5 685 2950.5V3518.7C685 3578.7 700 3618.7 761 3618.7"/>
<path d="M522.5 2972.7C552.5 3198.8 700 3618.7 761 3618.7"/>
<path d="M634 2881.3C652 2881.3 664 2891.3 664 2921.3V3624C664 3684 700 3724 761 3724"/>
<path d="M634 2910.5C652 2910.5 676 2920.5 676 2950.5V3624C676 3684 700 3724 761 3724"/>
<path d="M521 2972.7C551 3235.7 700 3724 761 3724"/>
<path d="M634 2881.3C652 2881.3 667 2891.3 667 2921.3V3729.3C667 3789.3 700 3829.3 761 3829.3"/>
<path d="M634 2910.5C652 2910.5 679 2920.5 679 2950.5V3729.3C679 3789.3 700 3829.3 761 3829.3"/>
<path d="M519.5 2972.7C549.5 3272.5 700 3829.3 761 3829.3"/>
<path d="M634 2881.3C652 2881.3 670 2891.3 670 2921.3V3834.6C670 3894.6 700 3934.6 761 3934.6"/>
<path d="M634 2910.5C652 2910.5 682 2920.5 682 2950.5V3834.6C682 3894.6 700 3934.6 761 3934.6"/>
<path d="M518 2972.7C548 3309.4 700 3934.6 761 3934.6"/>
<path d="M634 2881.3C652 2881.3 673 2891.3 673 2921.3V3940C673 4000 700 4040 761 4040"/>
<path d="M634 2910.5C652 2910.5 685 2920.5 685 2950.5V3940C685 4000 700 4040 761 4040"/>
<path d="M516.5 2972.7C546.5 3346.3 700 4040 761 4040"/>
<path d="M634 2881.3C652 2881.3 664 2891.3 664 2921.3V4045.3C664 4105.3 700 4145.3 761 4145.3"/>
<path d="M634 2910.5C652 2910.5 676 2920.5 676 2950.5V4045.3C676 4105.3 700 4145.3 761 4145.3"/>
<path d="M515 2972.7C545 3383.1 700 4145.3 761 4145.3"/>
<path d="M634 2881.3C652 2881.3 667 2891.3 667 2921.3V4150.6C667 4210.6 700 4250.6 761 4250.6"/>
<path d="M634 2910.5C652 2910.5 679 2920.5 679 2950.5V4150.6C679 4210.6 700 4250.6 761 4250.6"/>
<path d="M513.5 2972.7C543.5 3420 700 4250.6 761 4250.6"/>
<path d="M634 2881.3C652 2881.3 670 2891.3 670 2921.3V4255.9C670 4315.9 700 4355.9 761 4355.9"/>
<path d="M634 2910.5C652 2910.5 682 2920.5 682 2950.5V4255.9C682 4315.9 700 4355.9 761 4355.9"/>
<path d="M512 2972.7C542 3456.8 700 4355.9 761 4355.9"/>
<path d="M634 2881.3C652 2881.3 673 2891.3 673 2921.3V4361.3C673 4421.3 700 4461.3 761 4461.3"/>
<path d="M634 2910.5C652 2910.5 685 2920.5 685 2950.5V4361.3C685 4421.3 700 4461.3 761 4461.3"/>
<path d="M510.5 2972.7C540.5 3493.7 700 4461.3 761 4461.3"/>
<path d="M634 2881.3C652 2881.3 664 2891.3 664 2921.3V4466.6C664 4526.6 700 4566.6 761 4566.6"/>
<path d="M634 2910.5C652 2910.5 676 2920.5 676 2950.5V4466.6C676 4526.6 700 4566.6 761 4566.6"/>
<path d="M509 2972.7C539 3530.6 700 4566.6 761 4566.6"/>
<path d="M634 2881.3C652 2881.3 667 2891.3 667 2921.3V4571.9C667 4631.9 700 4671.9 761 4671.9"/>
<path d="M634 2910.5C652 2910.5 679 2920.5 679 2950.5V4571.9C679 4631.9 700 4671.9 761 4671.9"/>
<path d="M507.5 2972.7C537.5 3567.4 700 4671.9 761 4671.9"/>
<path d="M634 2881.3C652 2881.3 670 2891.3 670 2921.3V4677.2C670 4737.2 700 4777.2 761 4777.2"/>
<path d="M634 2910.5C652 2910.5 682 2920.5 682 2950.5V4677.2C682 4737.2 700 4777.2 761 4777.2"/>
<path d="M506 2972.7C536 3604.3 700 4777.2 761 4777.2"/>
<path d="M634 2881.3C652 2881.3 660 2891.3 660 2921.3V4904.7C660 4964.7 670 5004.7 698.8 5004.7"/>
<path d="M634 2910.5C652 2910.5 666 2920.5 666 2950.5V4933.8C666 4993.8 672 5033.8 698.8 5033.8"/>
<path d="M504.5 2972.7C534.5 3653.3 640 4917.2 698.8 4917.2"/>
</g>
<text x="16.3" y="5709">Generated by SchemaSpy</text>
</svg>
